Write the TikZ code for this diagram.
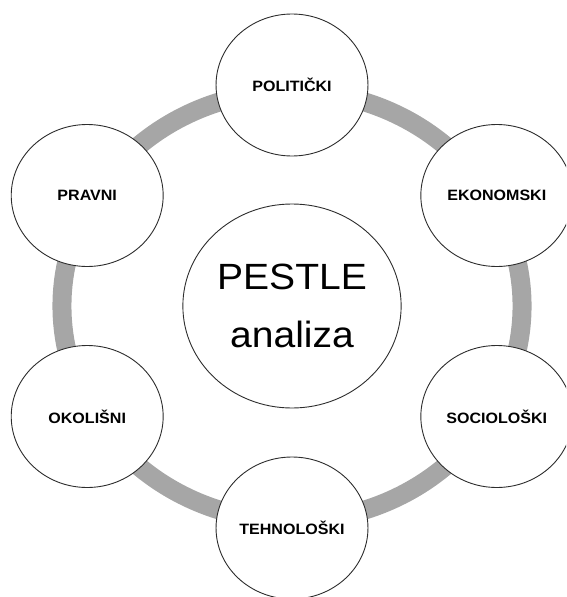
\documentclass[tikz,border=0pt]{standalone}
\usepackage{fontspec}
\setmainfont{Liberation Sans}
\definecolor{ringgray}{RGB}{166,166,166}
\definecolor{edgegray}{RGB}{45,45,45}
\begin{document}
\begin{tikzpicture}[x=1pt,y=-1pt,
  ringline/.style={circle, draw=ringgray, line width=19pt, minimum size=430pt, inner sep=0pt},
  factor/.style={circle, draw=edgegray, line width=0.9pt, fill=white, minimum size=142pt, inner sep=0pt, font=\bfseries\fontsize{15}{18}\selectfont},
  core/.style={circle, draw=edgegray, line width=0.9pt, fill=white, minimum size=204pt, inner sep=0pt},
  bigtext/.style={font=\fontsize{36.5}{40}\selectfont, anchor=base, inner sep=0pt}]
\clip (0,0) rectangle (566,597);
\useasboundingbox (0,0) rectangle (566,597);
\begin{scope}[shift={(292,306)}, xscale=1.07, transform shape]
  \node[ringline] (ring) at (0,0) {};
  \node[core] (core) at (0,0) {};
  \node[bigtext] (pestle) at (0,-17) {PESTLE};
  \node[bigtext] (analiza) at (0,41) {analiza};
  \node[factor] (pol) at (0,-221) {POLITIČKI};
  \node[factor] (eko) at (191.4,-110.5) {EKONOMSKI};
  \node[factor] (soc) at (191.4,110.5) {SOCIOLOŠKI};
  \node[factor] (teh) at (0,222) {TEHNOLOŠKI};
  \node[factor] (oko) at (-191.4,110.5) {OKOLIŠNI};
  \node[factor] (pra) at (-191.4,-110.5) {PRAVNI};
\end{scope}
\end{tikzpicture}
\end{document}
